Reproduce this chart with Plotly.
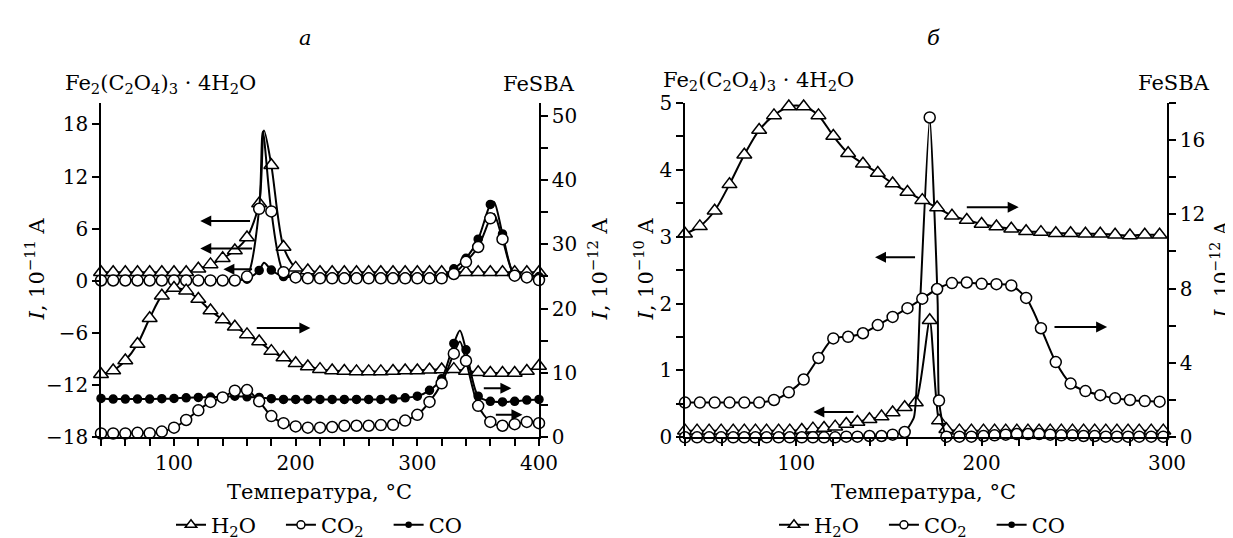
import plotly.graph_objects as go

W, H = 1233, 538
FONT = "DejaVu Serif"

# ---------------- data: panel a (x = temperature, °C) ----------------
T_a = [40, 50, 60, 70, 80, 90, 100, 110, 120, 130, 140, 150, 160, 170, 180, 190,
       200, 210, 220, 230, 240, 250, 260, 270, 280, 290, 300, 310, 320, 330, 340,
       350, 360, 370, 380, 390, 400]

# Fe2(C2O4)3*4H2O, left axis, 1e-11 A
a_ox_h2o = [1.0, 1.0, 1.0, 1.0, 1.0, 1.0, 1.0, 1.0, 1.4, 1.9, 2.6, 3.5, 5.0, 8.9, 13.3, 3.9,
            1.5, 1.2, 1.0, 1.0, 1.0, 1.0, 1.0, 1.0, 1.0, 1.0, 1.0, 1.0, 1.0, 1.0, 1.0,
            1.0, 1.0, 1.0, 1.0, 1.0, 1.0]
a_ox_h2o_peak_T = [174]
a_ox_h2o_peak_I = [17.3]

a_ox_co2 = [0.05, 0.05, 0.05, 0.05, 0.05, 0.05, 0.05, 0.05, 0.05, 0.05, 0.05, 0.05, 0.5, 8.3, 8.0, 1.0,
            0.4, 0.3, 0.3, 0.3, 0.3, 0.3, 0.3, 0.3, 0.3, 0.3, 0.3, 0.3, 0.3, 0.8, 2.2,
            3.9, 7.2, 4.8, 0.6, 0.4, 0.1]
a_ox_co2_peak_T = [173, 363]
a_ox_co2_peak_I = [17.2, 7.7]

a_ox_co = [0.1, 0.1, 0.1, 0.1, 0.1, 0.1, 0.1, 0.1, 0.1, 0.1, 0.1, 0.1, 0.2, 1.2, 1.25, 0.5,
           0.45, 0.45, 0.45, 0.45, 0.45, 0.45, 0.45, 0.45, 0.45, 0.45, 0.45, 0.45, 0.45, 1.4, 2.6,
           4.8, 8.8, 5.4, 0.6, 0.5, 0.5]
a_ox_co_peak_T = [174, 363]
a_ox_co_peak_I = [2.1, 9.1]

# FeSBA, right axis, 1e-12 A
a_sba_h2o = [9.8, 10.4, 11.95, 14.5, 18.5, 22.0, 23.2, 22.8, 21.5, 19.7, 18.3, 17.2, 16.0, 14.9, 13.4, 12.4,
             11.5, 11.0, 10.6, 10.4, 10.3, 10.25, 10.25, 10.25, 10.3, 10.4, 10.4, 10.5, 10.55, 10.6, 10.3,
             10.1, 10.0, 10.0, 10.0, 10.3, 11.1]
a_sba_co = [6.05, 5.95, 5.95, 5.95, 5.95, 6.0, 6.05, 6.15, 6.2, 6.25, 6.3, 6.4, 6.3, 6.2, 6.0, 5.9,
            5.9, 5.9, 5.9, 5.9, 5.9, 5.9, 5.9, 5.9, 5.95, 6.15, 6.4, 7.3, 9.1, 14.6, 13.6,
            6.4, 5.6, 5.5, 5.6, 5.8, 5.9]
a_sba_co_peak_T = [335]
a_sba_co_peak_I = [16.6]
a_sba_co2 = [0.6, 0.6, 0.6, 0.7, 0.65, 0.9, 1.5, 2.7, 4.2, 5.5, 6.2, 7.25, 7.35, 5.6, 3.3, 2.2,
             1.7, 1.5, 1.5, 1.6, 1.8, 1.8, 1.8, 1.9, 1.95, 2.6, 3.5, 5.5, 8.4, 13.0, 11.9,
             4.9, 2.4, 1.8, 2.05, 2.4, 2.2]
a_sba_co2_peak_T = [335]
a_sba_co2_peak_I = [14.9]

# ---------------- data: panel b ----------------
T_b_sba = [40, 48, 56, 64, 72, 80, 88, 96, 104, 112, 120, 128, 136, 144, 152, 160, 168,
           176, 184, 192, 200, 208, 216, 224, 232, 240, 248, 256, 264, 272, 280, 288, 296]
# FeSBA, right axis, 1e-12 A
b_sba_h2o = [10.95, 11.35, 12.19, 13.61, 15.2, 16.53, 17.32, 17.8, 17.8, 17.32, 16.21, 15.28, 14.72,
             14.22, 13.66, 13.2, 12.76, 12.36, 11.92, 11.69, 11.48, 11.34, 11.22, 11.09, 11.04,
             10.98, 10.98, 10.95, 10.95, 10.9, 10.86, 10.9, 10.9]
b_sba_co2 = [1.87, 1.87, 1.87, 1.87, 1.87, 1.87, 2.01, 2.42, 3.11, 4.27, 5.32, 5.41, 5.6, 6.04,
             6.48, 6.95, 7.46, 7.98, 8.3, 8.33, 8.26, 8.24, 8.17, 7.5, 5.87, 4.05, 2.89, 2.49,
             2.27, 2.1, 2.01, 1.95, 1.92]

# Fe2(C2O4)3*4H2O, left axis, 1e-10 A
T_b_ox = [40, 46.5, 53, 59.5, 66, 72, 78, 84, 90.5, 96.5, 103, 109, 115, 121, 127, 133, 139.5,
          146, 152, 158.5, 164.5, 172, 177, 181, 188, 194.5, 201, 207, 213, 219, 225, 231, 237,
          243, 249, 255, 261, 267, 273, 279, 285, 291.5, 298]
b_ox_h2o = [0.1, 0.1, 0.1, 0.1, 0.1, 0.1, 0.1, 0.1, 0.1, 0.1, 0.11, 0.13, 0.14, 0.16, 0.2, 0.23,
            0.27, 0.31, 0.37, 0.45, 0.52, 1.75, 0.25, 0.12, 0.1, 0.1, 0.1, 0.1, 0.1, 0.1, 0.1,
            0.1, 0.1, 0.1, 0.1, 0.1, 0.1, 0.1, 0.1, 0.1, 0.1, 0.1, 0.1]
T_b_ox_co2 = [40, 46.5, 53, 59.5, 66, 72, 78, 84, 90.5, 96.5, 103, 109, 115, 121, 127, 133, 139.5,
              146, 152, 158.5, 172, 177, 181, 188, 194.5, 201, 207, 213, 219, 225, 231, 237,
              243, 249, 255, 261, 267, 273, 279, 285, 291.5, 298]
b_ox_co2 = [0.0, 0.0, 0.0, 0.0, 0.0, 0.0, 0.0, 0.0, 0.0, 0.0, 0.0, 0.0, 0.0, 0.0, 0.01, 0.01,
            0.02, 0.02, 0.04, 0.08, 4.78, 0.55, 0.01, 0.01, 0.01, 0.02, 0.03, 0.04, 0.05, 0.05,
            0.05, 0.04, 0.03, 0.03, 0.02, 0.02, 0.01, 0.01, 0.01, 0.01, 0.01, 0.01]
b_ox_co2_line_T = [163.5, 166.8, 176.3]
b_ox_co2_line_I = [0.3, 2.0, 2.0]

# arrows: (tail T, head T, level)
arrows_a_left = [(163.7, 121.6, 6.88), (165.4, 121.6, 3.73), (165.4, 140.6, 1.33),
                 (166.8, 212.1, -5.42), (353.4, 377.3, -12.35), (363.3, 386.4, -15.4)]
arrows_b_left = [(191.2, 220.0, 3.44), (164.9, 142.5, 2.69), (131.7, 109.2, 0.38),
                 (238.5, 267.7, 1.65)]

fig = go.Figure()

STYLE = {
    "H2O": dict(symbol="triangle-up", color="white", size=13),
    "CO2": dict(symbol="circle", color="white", size=11),
    "CO": dict(symbol="circle", color="black", size=8),
}
LW = 2.0


def add_series(T, I, kind, xa, ya, extra_T=(), extra_I=(), smoothing=0.8):
    pts = sorted(list(zip(T, I)) + list(zip(extra_T, extra_I)))
    fig.add_trace(go.Scatter(
        x=[p[0] for p in pts], y=[p[1] for p in pts], mode="lines",
        line=dict(color="black", width=LW, shape="spline", smoothing=smoothing),
        xaxis=xa, yaxis=ya, showlegend=False, hoverinfo="skip", cliponaxis=False))
    st = STYLE[kind]
    fig.add_trace(go.Scatter(
        x=T, y=I, mode="markers",
        marker=dict(symbol=st["symbol"], size=st["size"], color=st["color"],
                    line=dict(color="black", width=1.5)),
        xaxis=xa, yaxis=ya, showlegend=False, cliponaxis=False))


# panel a
add_series(T_a, a_sba_h2o, "H2O", "x", "y2")
add_series(T_a, a_sba_co, "CO", "x", "y2", a_sba_co_peak_T, a_sba_co_peak_I)
add_series(T_a, a_sba_co2, "CO2", "x", "y2", a_sba_co2_peak_T, a_sba_co2_peak_I)
add_series(T_a, a_ox_h2o, "H2O", "x", "y", a_ox_h2o_peak_T, a_ox_h2o_peak_I)
add_series(T_a, a_ox_co, "CO", "x", "y", a_ox_co_peak_T, a_ox_co_peak_I)
add_series(T_a, a_ox_co2, "CO2", "x", "y", a_ox_co2_peak_T, a_ox_co2_peak_I)

# panel b
add_series(T_b_sba, b_sba_h2o, "H2O", "x2", "y4")
add_series(T_b_sba, b_sba_co2, "CO2", "x2", "y4")
add_series(T_b_ox, b_ox_h2o, "H2O", "x2", "y3", smoothing=0.6)
add_series(T_b_ox_co2, b_ox_co2, "CO2", "x2", "y3", b_ox_co2_line_T, b_ox_co2_line_I, smoothing=0.5)

# legends
PAD = "\u00a0\u00a0\u00a0"
names = [("H2O", "H<sub>2</sub>O" + PAD), ("CO2", "CO<sub>2</sub>" + PAD), ("CO", "CO")]
for lg in ("legend", "legend2"):
    for kind, label in names:
        st = STYLE[kind]
        fig.add_trace(go.Scatter(
            x=[None], y=[None], mode="lines+markers", name=label, legend=lg,
            line=dict(color="black", width=LW),
            marker=dict(symbol=st["symbol"], size=st["size"] - 3, color=st["color"],
                        line=dict(color="black", width=1.5)),
            xaxis="x", yaxis="y"))

# arrows
for t0, t1, lv in arrows_a_left:
    fig.add_annotation(x=t1, y=lv, ax=t0, ay=lv, xref="x", yref="y", axref="x", ayref="y",
                       text="", showarrow=True, arrowhead=2, arrowsize=1.1, arrowwidth=2,
                       arrowcolor="black", standoff=0)
for t0, t1, lv in arrows_b_left:
    fig.add_annotation(x=t1, y=lv, ax=t0, ay=lv, xref="x2", yref="y3", axref="x2", ayref="y3",
                       text="", showarrow=True, arrowhead=2, arrowsize=1.1, arrowwidth=2,
                       arrowcolor="black", standoff=0)


def px(v):
    return v / W


def py(v):
    return 1 - v / H


TXT = dict(family=FONT, size=21, color="black")
TXT20 = dict(family=FONT, size=20, color="black")
ann = [
    ("<i>а</i>", 297, 30, "center", 0, TXT),
    ("<i>б</i>", 925, 30, "center", 0, TXT),
    ("Fe<sub>2</sub>(C<sub>2</sub>O<sub>4</sub>)<sub>3</sub> · 4H<sub>2</sub>O", 55, 77, "left", 0, TXT),
    ("FeSBA", 569, 77, "right", 0, TXT),
    ("Fe<sub>2</sub>(C<sub>2</sub>O<sub>4</sub>)<sub>3</sub> · 4H<sub>2</sub>O", 653, 74, "left", 0, TXT),
    ("FeSBA", 1204, 76, "right", 0, TXT),
    ("<i>I</i>, 10<sup>−11</sup> A", 27, 265, "center", -90, TXT),
    ("<i>I</i>, 10<sup>−12</sup> A", 590, 265, "center", -90, TXT),
    ("<i>I</i>, 10<sup>−10</sup> A", 636, 265, "center", -90, TXT),
    ("<i>I</i>, 10<sup>−12</sup> A", 1212, 265, "center", -90, TXT20),
    ("Температура, °C", 311, 490, "center", 0, TXT),
    ("Температура, °C", 915, 490, "center", 0, TXT),
]
for text, x, y, xa, ang, f in ann:
    fig.add_annotation(text=text, x=px(x), y=py(y), xref="paper", yref="paper",
                       xanchor=xa, yanchor="middle", showarrow=False, font=f, textangle=ang)

AX = dict(showline=True, linecolor="black", linewidth=1.6, ticks="outside", ticklen=7,
          tickwidth=1.5, tickcolor="black", showgrid=False, zeroline=False,
          tickfont=dict(family=FONT, size=20, color="black"), automargin=False)


def minor(d):
    return dict(dtick=d, tick0=0, ticks="outside", ticklen=7, tickwidth=1.5,
                tickcolor="black", showgrid=False)


LEGFONT = dict(family=FONT, size=21, color="black")
ydom = [py(435), py(96)]
fig.update_layout(
    width=W, height=H, margin=dict(l=0, r=0, t=0, b=0),
    paper_bgcolor="white", plot_bgcolor="white", template=None,
    font=dict(family=FONT, size=20, color="black"),
    xaxis=dict(AX, domain=[px(93), px(531)], range=[40, 400], anchor="y",
               tickvals=[100, 200, 300, 400], minor=minor(20)),
    yaxis=dict(AX, domain=ydom, range=[-18, 20.5], anchor="x", side="left",
               tickvals=[-18, -12, -6, 0, 6, 12, 18]),
    yaxis2=dict(AX, range=[0, 52], anchor="x", overlaying="y", side="right",
                tickvals=[0, 10, 20, 30, 40, 50], minor=minor(5)),
    xaxis2=dict(AX, domain=[px(677), px(1159)], range=[40, 300], anchor="y3",
                tickvals=[100, 200, 300], minor=minor(20)),
    yaxis3=dict(AX, domain=ydom, range=[0, 5], anchor="x2", side="left",
                tickvals=[0, 1, 2, 3, 4, 5], minor=minor(0.5)),
    yaxis4=dict(AX, range=[0, 18], anchor="x2", overlaying="y3", side="right",
                tickvals=[0, 4, 8, 12, 16], minor=minor(2)),
    legend=dict(orientation="h", x=px(311), xanchor="center", y=py(524), yanchor="middle",
                font=LEGFONT, bgcolor="rgba(0,0,0,0)", itemwidth=30, tracegroupgap=0),
    legend2=dict(orientation="h", x=px(914), xanchor="center", y=py(524), yanchor="middle",
                 font=LEGFONT, bgcolor="rgba(0,0,0,0)", itemwidth=30, tracegroupgap=0),
)

fig.write_html("out.html")
